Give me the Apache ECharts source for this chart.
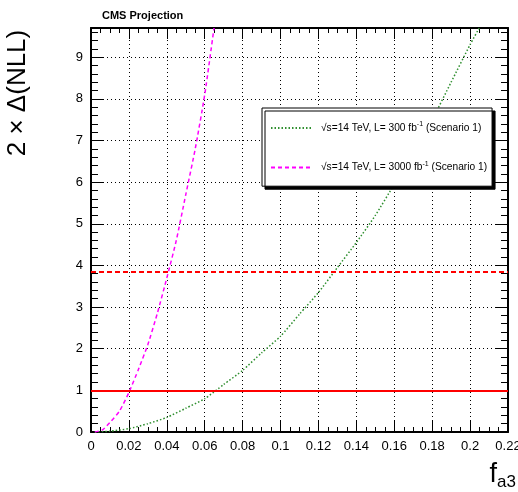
<!DOCTYPE html>
<html>
<head>
<meta charset="utf-8">
<script src="https://cdn.jsdelivr.net/npm/echarts@6/dist/echarts.min.js"></script>
<style>
html, body { margin: 0; padding: 0; background: #fff; }
#chart { width: 518px; height: 492px; }
</style>
</head>
<body>
<div id="chart"></div>
<script>
// L = 300 fb-1 (green dotted)
const fa3Low = [0.002, 0.01, 0.02, 0.03, 0.04, 0.05, 0.06, 0.07, 0.08, 0.09, 0.10, 0.11, 0.12, 0.13, 0.14, 0.15, 0.16, 0.17, 0.18, 0.19, 0.20, 0.2048];
const nllLow = [0, 0.02, 0.08, 0.2, 0.35, 0.57, 0.8, 1.14, 1.48, 1.9, 2.3, 2.83, 3.35, 3.95, 4.55, 5.2, 5.95, 6.75, 7.5, 8.4, 9.3, 9.7];

// L = 3000 fb-1 (magenta dashed)
const fa3High = [0.002, 0.006, 0.01, 0.015, 0.02, 0.025, 0.03, 0.035, 0.04, 0.045, 0.05, 0.055, 0.06, 0.0649];
const nllHigh = [0, 0.05, 0.23, 0.5, 0.95, 1.5, 2.1, 2.85, 3.7, 4.6, 5.7, 6.8, 8.1, 9.7];

// 68% / 95% CL lines
const levels = [1, 3.84];

const lumis = ['300', '3000'];
const xMin = 0, xMax = 0.22, xStep = 0.02;
const yMin = 0, yMax = 9.7, yStep = 1;

const chart = echarts.init(document.getElementById('chart'));

function pairs(xs, ys) {
    return xs.map((x, i) => [x, ys[i]]);
}

const font = 'Liberation Sans, Arial, sans-serif';

function xAxisDef(pos, labels) {
    return {
        type: 'value', position: pos, min: xMin, max: xMax, interval: xStep,
        axisLine: { show: true, onZero: false, lineStyle: { color: '#000', width: 2 } },
        axisTick: { show: true, inside: true, length: 11, lineStyle: { color: '#000', width: 1 } },
        minorTick: { show: true, splitNumber: 4, length: 5, lineStyle: { color: '#000', width: 1 } },
        axisLabel: {
            show: labels, color: '#000', fontSize: 13, fontFamily: font, margin: 8,
            showMaxLabel: true,
            formatter: v => String(Math.round(v * 100) / 100)
        },
        splitLine: { show: labels, lineStyle: { color: '#000', type: [1, 3], width: 1 } }
    };
}

function yAxisDef(pos, labels) {
    return {
        type: 'value', position: pos, min: yMin, max: yMax, interval: yStep,
        axisLine: { show: true, onZero: false, lineStyle: { color: '#000', width: 2 } },
        axisTick: { show: true, inside: true, length: 12, lineStyle: { color: '#000', width: 1 } },
        minorTick: { show: true, splitNumber: 5, length: 7, lineStyle: { color: '#000', width: 1 } },
        axisLabel: {
            show: labels, color: '#000', fontSize: 13, fontFamily: font, margin: 8,
            formatter: v => (Math.abs(v - Math.round(v)) < 1e-6 ? String(Math.round(v)) : '')
        },
        splitLine: { show: labels, lineStyle: { color: '#000', type: [1, 3], width: 1 } }
    };
}

const option = {
    animation: false,
    backgroundColor: '#fff',
    title: {
        text: 'CMS Projection', left: 97, top: 5,
        textStyle: { fontSize: 11, fontWeight: 'bold', fontFamily: font, color: '#000' }
    },
    grid: { left: 91, right: 10, top: 28, bottom: 60, outerBoundsMode: 'none' },
    xAxis: [xAxisDef('bottom', true), xAxisDef('top', false)],
    yAxis: [yAxisDef('left', true), yAxisDef('right', false)],
    legend: {
        data: lumis,
        orient: 'vertical',
        left: 262, top: 108,
        itemWidth: 40, itemHeight: 14, itemGap: 27,
        padding: [13, 5, 13, 8],
        backgroundColor: '#fff',
        borderColor: '#000', borderWidth: 1,
        shadowColor: '#000', shadowBlur: 0, shadowOffsetX: 3, shadowOffsetY: 3,
        itemStyle: { opacity: 0 },
        formatter: name => `{t|√s=14 TeV, L= ${name} fb}{sup|-1}{t| (Scenario 1)}`,
        textStyle: {
            fontFamily: font, color: '#000', padding: [0, 0, 0, 5],
            rich: {
                t: { fontSize: 10.2, fontFamily: font, color: '#000', lineHeight: 14 },
                sup: { fontSize: 7, fontFamily: font, color: '#000', lineHeight: 6, verticalAlign: 'top' }
            }
        }
    },
    graphic: [
        {
            type: 'text', x: 18, y: 93, rotation: Math.PI / 2,
            style: {
                text: '2 × Δ(NLL)', font: '26px ' + font, fill: '#000',
                textAlign: 'center', textVerticalAlign: 'middle'
            }
        },
        {
            type: 'text', right: 2, bottom: 1,
            style: {
                text: '{f|f}{s|a3}', fill: '#000',
                rich: {
                    f: { fontSize: 27, fontFamily: font, lineHeight: 30, verticalAlign: 'top' },
                    s: { fontSize: 17, fontFamily: font, lineHeight: 16, verticalAlign: 'bottom' }
                }
            }
        }
    ],
    series: [
        {
            name: lumis[0], type: 'line', symbol: 'none', smooth: 0.2,
            data: pairs(fa3Low, nllLow),
            lineStyle: { color: '#2f8f2f', width: 1.5, type: [1.5, 2] },
            itemStyle: { color: '#2f8f2f' }
        },
        {
            name: lumis[1], type: 'line', symbol: 'none', smooth: 0.2,
            data: pairs(fa3High, nllHigh),
            lineStyle: { color: '#ff00ff', width: 1.5, type: [4, 3] },
            itemStyle: { color: '#ff00ff' }
        },
        {
            name: 'levels', type: 'line', data: [],
            markLine: {
                silent: true, symbol: ['none', 'none'], label: { show: false },
                data: [
                    { yAxis: levels[0], lineStyle: { color: '#ff0000', width: 1.8, type: 'solid' } },
                    { yAxis: levels[1], lineStyle: { color: '#ff0000', width: 1.8, type: [5, 3] } }
                ]
            }
        }
    ]
};

chart.setOption(option);
</script>
</body>
</html>
